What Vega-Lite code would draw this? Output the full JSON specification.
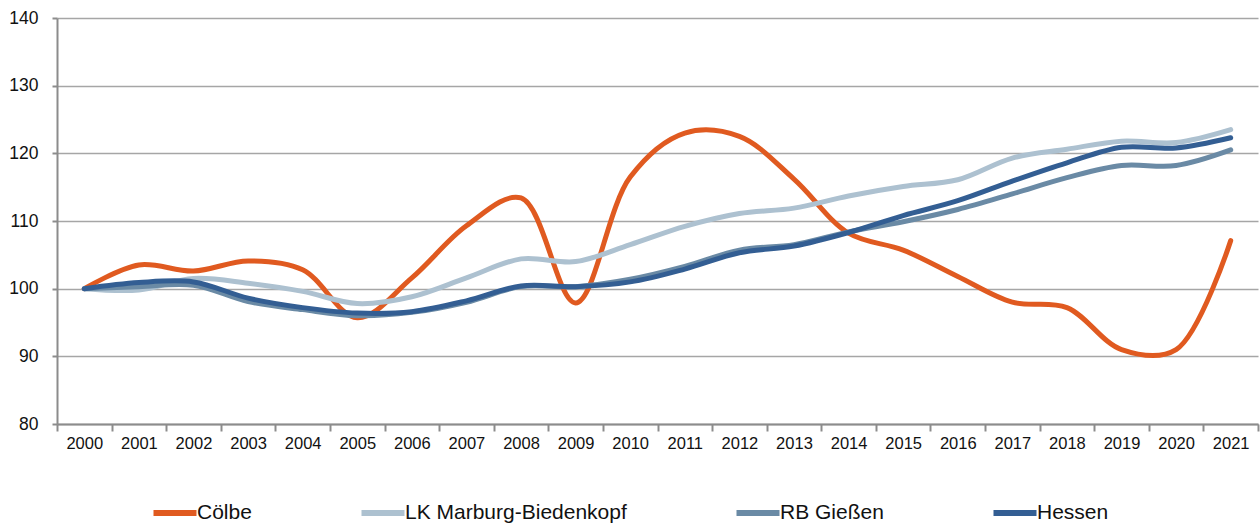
{
  "$schema": "https://vega.github.io/schema/vega-lite/v6.json",
  "autosize": "none",
  "width": 1201,
  "height": 406,
  "padding": {"left": 57, "top": 18, "right": 2, "bottom": 103},
  "background": "white",
  "config": {
    "view": {"stroke": null},
    "font": "Liberation Sans",
    "axis": {"labelColor": "#111", "titleColor": "#111"}
  },
  "datasets": {
    "d": [
      {"year": "2000", "series": "Cölbe", "value": 100},
      {"year": "2001", "series": "Cölbe", "value": 103.5},
      {"year": "2002", "series": "Cölbe", "value": 102.6},
      {"year": "2003", "series": "Cölbe", "value": 104.1},
      {"year": "2004", "series": "Cölbe", "value": 102.8},
      {"year": "2005", "series": "Cölbe", "value": 95.7},
      {"year": "2006", "series": "Cölbe", "value": 101.6},
      {"year": "2007", "series": "Cölbe", "value": 109.3},
      {"year": "2008", "series": "Cölbe", "value": 113.4},
      {"year": "2009", "series": "Cölbe", "value": 97.9},
      {"year": "2010", "series": "Cölbe", "value": 116.5},
      {"year": "2011", "series": "Cölbe", "value": 123.0},
      {"year": "2012", "series": "Cölbe", "value": 122.5},
      {"year": "2013", "series": "Cölbe", "value": 116.2},
      {"year": "2014", "series": "Cölbe", "value": 108.2},
      {"year": "2015", "series": "Cölbe", "value": 105.7},
      {"year": "2016", "series": "Cölbe", "value": 101.8},
      {"year": "2017", "series": "Cölbe", "value": 98.0},
      {"year": "2018", "series": "Cölbe", "value": 97.2},
      {"year": "2019", "series": "Cölbe", "value": 91.0},
      {"year": "2020", "series": "Cölbe", "value": 91.0},
      {"year": "2021", "series": "Cölbe", "value": 107.1},
      {"year": "2000", "series": "LK Marburg-Biedenkopf", "value": 100},
      {"year": "2001", "series": "LK Marburg-Biedenkopf", "value": 99.8},
      {"year": "2002", "series": "LK Marburg-Biedenkopf", "value": 101.5},
      {"year": "2003", "series": "LK Marburg-Biedenkopf", "value": 100.8},
      {"year": "2004", "series": "LK Marburg-Biedenkopf", "value": 99.6},
      {"year": "2005", "series": "LK Marburg-Biedenkopf", "value": 97.8},
      {"year": "2006", "series": "LK Marburg-Biedenkopf", "value": 98.8},
      {"year": "2007", "series": "LK Marburg-Biedenkopf", "value": 101.6},
      {"year": "2008", "series": "LK Marburg-Biedenkopf", "value": 104.4},
      {"year": "2009", "series": "LK Marburg-Biedenkopf", "value": 104.0},
      {"year": "2010", "series": "LK Marburg-Biedenkopf", "value": 106.5},
      {"year": "2011", "series": "LK Marburg-Biedenkopf", "value": 109.2},
      {"year": "2012", "series": "LK Marburg-Biedenkopf", "value": 111.1},
      {"year": "2013", "series": "LK Marburg-Biedenkopf", "value": 111.9},
      {"year": "2014", "series": "LK Marburg-Biedenkopf", "value": 113.7},
      {"year": "2015", "series": "LK Marburg-Biedenkopf", "value": 115.1},
      {"year": "2016", "series": "LK Marburg-Biedenkopf", "value": 116.1},
      {"year": "2017", "series": "LK Marburg-Biedenkopf", "value": 119.3},
      {"year": "2018", "series": "LK Marburg-Biedenkopf", "value": 120.6},
      {"year": "2019", "series": "LK Marburg-Biedenkopf", "value": 121.8},
      {"year": "2020", "series": "LK Marburg-Biedenkopf", "value": 121.6},
      {"year": "2021", "series": "LK Marburg-Biedenkopf", "value": 123.5},
      {"year": "2000", "series": "RB Gießen", "value": 100},
      {"year": "2001", "series": "RB Gießen", "value": 100.3},
      {"year": "2002", "series": "RB Gießen", "value": 100.5},
      {"year": "2003", "series": "RB Gießen", "value": 98.1},
      {"year": "2004", "series": "RB Gießen", "value": 96.9},
      {"year": "2005", "series": "RB Gießen", "value": 96.0},
      {"year": "2006", "series": "RB Gießen", "value": 96.5},
      {"year": "2007", "series": "RB Gießen", "value": 98.0},
      {"year": "2008", "series": "RB Gießen", "value": 100.3},
      {"year": "2009", "series": "RB Gießen", "value": 100.3},
      {"year": "2010", "series": "RB Gießen", "value": 101.4},
      {"year": "2011", "series": "RB Gießen", "value": 103.3},
      {"year": "2012", "series": "RB Gießen", "value": 105.7},
      {"year": "2013", "series": "RB Gießen", "value": 106.5},
      {"year": "2014", "series": "RB Gießen", "value": 108.4},
      {"year": "2015", "series": "RB Gießen", "value": 109.9},
      {"year": "2016", "series": "RB Gießen", "value": 111.7},
      {"year": "2017", "series": "RB Gießen", "value": 114.0},
      {"year": "2018", "series": "RB Gießen", "value": 116.4},
      {"year": "2019", "series": "RB Gießen", "value": 118.2},
      {"year": "2020", "series": "RB Gießen", "value": 118.2},
      {"year": "2021", "series": "RB Gießen", "value": 120.5},
      {"year": "2000", "series": "Hessen", "value": 100},
      {"year": "2001", "series": "Hessen", "value": 100.9},
      {"year": "2002", "series": "Hessen", "value": 101.0},
      {"year": "2003", "series": "Hessen", "value": 98.6},
      {"year": "2004", "series": "Hessen", "value": 97.2},
      {"year": "2005", "series": "Hessen", "value": 96.4},
      {"year": "2006", "series": "Hessen", "value": 96.6},
      {"year": "2007", "series": "Hessen", "value": 98.2},
      {"year": "2008", "series": "Hessen", "value": 100.4},
      {"year": "2009", "series": "Hessen", "value": 100.3},
      {"year": "2010", "series": "Hessen", "value": 101.0},
      {"year": "2011", "series": "Hessen", "value": 102.9},
      {"year": "2012", "series": "Hessen", "value": 105.3},
      {"year": "2013", "series": "Hessen", "value": 106.3},
      {"year": "2014", "series": "Hessen", "value": 108.3},
      {"year": "2015", "series": "Hessen", "value": 110.8},
      {"year": "2016", "series": "Hessen", "value": 113.0},
      {"year": "2017", "series": "Hessen", "value": 115.9},
      {"year": "2018", "series": "Hessen", "value": 118.6},
      {"year": "2019", "series": "Hessen", "value": 120.9},
      {"year": "2020", "series": "Hessen", "value": 120.8},
      {"year": "2021", "series": "Hessen", "value": 122.3}
    ]
  },
  "data": {"name": "d"},
  "mark": {"type": "line", "interpolate": "catmull-rom", "strokeWidth": 5, "strokeCap": "round", "strokeJoin": "round"},
  "encoding": {
    "x": {
      "field": "year", "type": "ordinal",
      "scale": {"paddingInner": 0, "paddingOuter": 0},
      "axis": {
        "title": null, "labelAngle": 0, "tickBand": "extent",
        "labelFont": "Liberation Sans", "labelFontSize": 16.5, "labelPadding": 4,
        "domainColor": "#8c8c8c", "domainWidth": 2, "tickColor": "#8c8c8c", "tickWidth": 2, "tickSize": 7,
        "grid": false
      }
    },
    "y": {
      "field": "value", "type": "quantitative",
      "scale": {"domain": [80, 140], "nice": false, "zero": false},
      "axis": {
        "title": null, "values": [80, 90, 100, 110, 120, 130, 140],
        "labelFont": "Liberation Sans", "labelFontSize": 17.5, "labelPadding": 14,
        "domainColor": "#8c8c8c", "domainWidth": 2, "tickColor": "#8c8c8c", "tickWidth": 2, "tickSize": 5,
        "grid": true, "gridColor": "#a6a6a6", "gridWidth": 1.5
      }
    },
    "color": {
      "field": "series", "type": "nominal",
      "scale": {
        "domain": ["Cölbe", "LK Marburg-Biedenkopf", "RB Gießen", "Hessen"],
        "range": ["#E05A20", "#ADC1D0", "#6A8AA5", "#335E93"]
      },
      "legend": {
        "title": null, "orient": "none", "direction": "horizontal",
        "legendX": 93, "legendY": 470,
        "symbolType": "stroke", "symbolSize": 1850, "symbolStrokeWidth": 6,
        "labelFontSize": 21, "labelColor": "#111", "labelOffset": -3,
        "columnPadding": 97, "padding": 0,
        "labelLimit": 400
      }
    },
    "order": {"field": "year"}
  }
}
